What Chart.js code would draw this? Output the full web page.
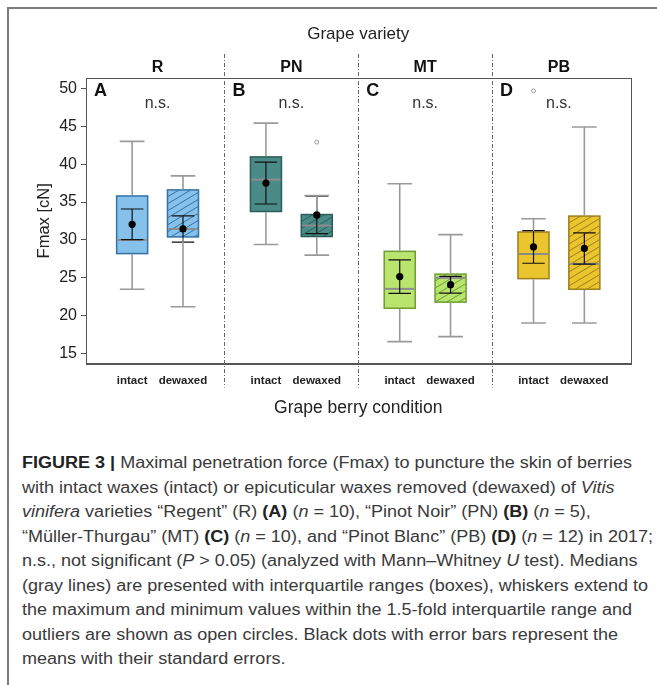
<!DOCTYPE html>
<html><head><meta charset="utf-8">
<script src="https://cdn.jsdelivr.net/npm/chart.js@4"></script>
<style>
html,body{margin:0;padding:0;background:#fff;}
body{width:657px;height:685px;position:relative;overflow:hidden;font-family:"Liberation Sans",Arial,sans-serif;}
#frame{position:absolute;left:7px;top:7px;width:700px;height:700px;border-left:2px solid #7a7a7a;border-top:2px solid #7a7a7a;}
#wrap{position:absolute;left:0;top:0;width:657px;height:430px;}
#cap{position:absolute;left:22px;top:451px;font-size:16px;line-height:24.5px;color:#3a3a3a;white-space:nowrap;transform-origin:0 0;}
#cap b{color:#222;}
</style></head><body>
<div id="frame"></div>
<div id="wrap"><canvas id="c" width="657" height="430"></canvas></div>
<div id="cap"><span id="l1"><b>FIGURE 3 |</b> Maximal penetration force (Fmax) to puncture the skin of berries</span><br>with intact waxes (intact) or epicuticular waxes removed (dewaxed) of <i>Vitis</i><br><i>vinifera</i> varieties “Regent” (R) <b>(A)</b> (<i>n</i> = 10), “Pinot Noir” (PN) <b>(B)</b> (<i>n</i> = 5),<br>“Müller-Thurgau” (MT) <b>(C)</b> (<i>n</i> = 10), and “Pinot Blanc” (PB) <b>(D)</b> (<i>n</i> = 12) in 2017;<br>n.s., not significant (<i>P</i> &gt; 0.05) (analyzed with Mann–Whitney <i>U</i> test). Medians<br>(gray lines) are presented with interquartile ranges (boxes), whiskers extend to<br>the maximum and minimum values within the 1.5-fold interquartile range and<br>outliers are shown as open circles. Black dots with error bars represent the<br>means with their standard errors.</div>
<script>
// ---- data ----
const varieties = ['R', 'PN', 'MT', 'PB'];
const panelLetters = ['A', 'B', 'C', 'D'];
const conditions = ['intact', 'dewaxed'];
const significance = ['n.s.', 'n.s.', 'n.s.', 'n.s.'];
const yTicks = [15, 20, 25, 30, 35, 40, 45, 50];
// [intact, dewaxed] per variety
const whiskerMax = [[43.0, 38.45], [45.4, 35.85], [37.4, 30.7], [32.8, 44.9]];
const q3 = [[35.8, 36.6], [40.95, 33.35], [28.5, 25.5], [31.05, 33.15]];
const median = [[30.0, 31.45], [37.95, 31.9], [23.55, 25.0], [28.15, 26.85]];
const q1 = [[28.2, 30.4], [33.75, 30.45], [21.0, 21.8], [24.9, 23.5]];
const whiskerMin = [[23.5, 21.2], [29.4, 28.0], [16.6, 17.25], [19.05, 19.05]];
const means = [[32.06, 31.45], [37.5, 33.3], [25.17, 24.1], [29.08, 28.88]];
const stdErr = [[2.02, 1.73], [2.76, 2.46], [2.2, 1.1], [2.15, 2.06]];
const outliers = [[[], []], [[], [42.9]], [[], []], [[49.65], []]];

// ---- styles ----
const fillColors = ['#85c1ea', '#4b8b87', '#b9e56e', '#eac52e'];
const edgeColors = ['#3572a6', '#2b5d59', '#6f9d35', '#9b7f1c'];
const condOffset = [0.31, 0.69];
const boxW = 0.232, capW = 0.168;
const FONT = '"Liberation Sans", Arial, Helvetica, sans-serif';
Chart.defaults.font.family = FONT;

const pos = (i, j) => i + condOffset[j];
const tickPositions = [];
varieties.forEach((v, i) => conditions.forEach((c, j) => tickPositions.push(pos(i, j))));

const meanPts = [], outPts = [];
varieties.forEach((v, i) => conditions.forEach((c, j) => {
  meanPts.push({x: pos(i, j), y: means[i][j]});
  outliers[i][j].forEach(o => outPts.push({x: pos(i, j), y: o}));
}));

const boxPlugin = {
  id: 'boxes',
  beforeDatasetsDraw(chart) {
    const {ctx, chartArea: a, scales: {x, y}} = chart;
    ctx.save();
    // dividers
    ctx.strokeStyle = '#666'; ctx.lineWidth = 1; ctx.setLineDash([4, 2, 1, 2]);
    for (let i = 1; i < varieties.length; i++) {
      const px = Math.round(x.getPixelForValue(i)) + 0.5;
      ctx.beginPath(); ctx.moveTo(px, a.top - 24); ctx.lineTo(px, a.bottom + 24); ctx.stroke();
    }
    ctx.setLineDash([]);
    // frame
    ctx.strokeStyle = '#555'; ctx.lineWidth = 1;
    ctx.strokeRect(Math.round(a.left) + 0.5, Math.round(a.top) + 0.5, Math.round(a.right - a.left), Math.round(a.bottom - a.top));

    varieties.forEach((v, i) => conditions.forEach((c, j) => {
      const cx = x.getPixelForValue(pos(i, j));
      const l = x.getPixelForValue(pos(i, j) - boxW / 2), r = x.getPixelForValue(pos(i, j) + boxW / 2);
      const top = y.getPixelForValue(q3[i][j]), bot = y.getPixelForValue(q1[i][j]);
      const w = r - l, h = bot - top;
      // box fill
      ctx.fillStyle = fillColors[i];
      ctx.fillRect(l, top, w, h);
      if (j === 1) {
        ctx.save();
        ctx.beginPath(); ctx.rect(l, top, w, h); ctx.clip();
        ctx.strokeStyle = edgeColors[i]; ctx.lineWidth = 1;
        const rise = 0.6 * w;
        for (let c0 = top; c0 < bot + rise + 8; c0 += 7) {
          ctx.beginPath(); ctx.moveTo(l, c0); ctx.lineTo(r, c0 - rise); ctx.stroke();
        }
        ctx.restore();
      }
      ctx.strokeStyle = edgeColors[i]; ctx.lineWidth = 1.5;
      ctx.strokeRect(l, top, w, h);
      // median
      const my = y.getPixelForValue(median[i][j]);
      ctx.strokeStyle = '#8c8c8c'; ctx.lineWidth = 2;
      ctx.beginPath(); ctx.moveTo(l + 1, my); ctx.lineTo(r - 1, my); ctx.stroke();
      // standard error bar
      const sTop = y.getPixelForValue(means[i][j] + stdErr[i][j]);
      const sBot = y.getPixelForValue(means[i][j] - stdErr[i][j]);
      const cl = x.getPixelForValue(pos(i, j) - capW / 2), cr = x.getPixelForValue(pos(i, j) + capW / 2);
      ctx.strokeStyle = '#111'; ctx.lineWidth = 1.2;
      ctx.beginPath();
      ctx.moveTo(cx, sTop); ctx.lineTo(cx, sBot);
      ctx.moveTo(cl, sTop); ctx.lineTo(cr, sTop);
      ctx.moveTo(cl, sBot); ctx.lineTo(cr, sBot);
      ctx.stroke();
      // whiskers
      const wTop = y.getPixelForValue(whiskerMax[i][j]), wBot = y.getPixelForValue(whiskerMin[i][j]);
      const wl = x.getPixelForValue(pos(i, j) - capW * 0.55), wr = x.getPixelForValue(pos(i, j) + capW * 0.55);
      ctx.strokeStyle = '#9a9a9a'; ctx.lineWidth = 1.6;
      ctx.beginPath();
      ctx.moveTo(cx, top - 0.75); ctx.lineTo(cx, wTop);
      ctx.moveTo(cx, bot + 0.75); ctx.lineTo(cx, wBot);
      ctx.moveTo(wl, wTop); ctx.lineTo(wr, wTop);
      ctx.moveTo(wl, wBot); ctx.lineTo(wr, wBot);
      ctx.stroke();
    }));
    ctx.restore();
  },
  afterDatasetsDraw(chart) {
    const {ctx, chartArea: a, scales: {x}} = chart;
    ctx.save();
    ctx.textAlign = 'center'; ctx.textBaseline = 'middle';
    ctx.fillStyle = '#222';
    ctx.font = '17px ' + FONT;
    ctx.fillText('Grape variety', (a.left + a.right) / 2, a.top - 44);
    varieties.forEach((v, i) => {
      const left = i === 0 ? a.left : x.getPixelForValue(i);
      const cx = x.getPixelForValue(i + 0.5);
      ctx.fillStyle = '#111';
      ctx.textAlign = 'center';
      ctx.font = 'bold 16px ' + FONT;
      ctx.fillText(v, cx, a.top - 10);
      ctx.font = '16px ' + FONT;
      ctx.fillStyle = '#333';
      ctx.fillText(significance[i], cx, a.top + 25.5);
      ctx.textAlign = 'left';
      ctx.fillStyle = '#111';
      ctx.font = 'bold 18px ' + FONT;
      ctx.fillText(panelLetters[i], left + 8, a.top + 13.5);
    });
    ctx.restore();
  }
};

new Chart(document.getElementById('c'), {
  type: 'scatter',
  data: {
    datasets: [
      {label: 'mean', data: meanPts, pointRadius: 3.6, pointHoverRadius: 3.6, backgroundColor: '#000', borderWidth: 0},
      {label: 'outliers', data: outPts, pointRadius: 2, backgroundColor: 'rgba(255,255,255,0)', borderColor: '#9a9a9a', borderWidth: 1}
    ]
  },
  options: {
    responsive: false, animation: false, devicePixelRatio: 1,
    layout: {padding: {top: 78, right: 26.5, left: 35, bottom: 11.4}},
    plugins: {legend: {display: false}, tooltip: {enabled: false}},
    scales: {
      x: {
        type: 'linear', position: 'bottom', min: -0.035, max: 4.035,
        grid: {display: false, drawTicks: false},
        border: {display: true, color: '#555', width: 1},
        afterBuildTicks: s => { s.ticks = tickPositions.map(v => ({value: v})); },
        ticks: {autoSkip: false, maxRotation: 0, minRotation: 0, padding: 10, color: '#222',
          font: {size: 11.5, weight: 'bold'}, callback: (v, idx) => conditions[idx % 2]},
        title: {display: true, text: 'Grape berry condition', color: '#222', font: {size: 17.5}, padding: 0},
        afterFit: s => { s.height = 55; }
      },
      y: {
        type: 'linear', min: 13.7, max: 51.35,
        grid: {drawOnChartArea: false, drawTicks: true, tickLength: 5, color: '#555'},
        border: {display: true, color: '#555', width: 1},
        afterBuildTicks: s => { s.ticks = yTicks.map(v => ({value: v})); },
        ticks: {padding: 4, color: '#222', font: {size: 16}, callback: v => String(v)},
        title: {display: true, text: 'Fmax [cN]', color: '#222', font: {size: 16.5}, padding: 0},
        afterFit: s => { s.width = 51; }
      }
    }
  },
  plugins: [boxPlugin]
});

// fit caption width to the reference line width
const l1 = document.getElementById('l1');
const wl1 = l1.getBoundingClientRect().width;
document.getElementById('cap').style.transform = 'scaleX(' + (610 / wl1).toFixed(4) + ')';
</script>
</body></html>
